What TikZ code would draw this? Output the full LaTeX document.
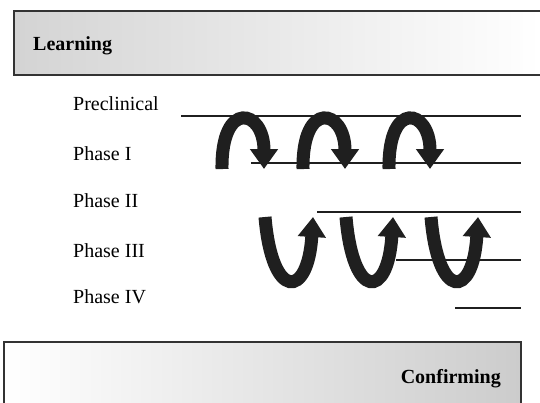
\documentclass[tikz,border=0pt]{standalone}
\usepackage{fontspec}
\setmainfont{Liberation Serif}
\usetikzlibrary{arrows.meta}
\begin{document}
\begin{tikzpicture}[x=1pt,y=-1pt,
  lbl/.style={anchor=base west,inner sep=0pt,font=\fontsize{20}{22}\selectfont},
  hdr/.style={inner sep=0pt,font=\fontsize{20}{22}\selectfont\bfseries},
  phline/.style={line width=2pt,draw=black!88},
  loop/.style={line width=13pt,draw=black!88,line cap=butt,
    -{Triangle[length=20pt,width=27pt,fill=black!88]}},
  boxborder/.style={draw=black!80,line width=1.2pt}]
\useasboundingbox (0,0) rectangle (540,402);
% top box
\shade[left color=black!17,right color=white] (14,11) rectangle (541,75);
\draw[boxborder] (541,11) -- (14,11) -- (14,75) -- (541,75);
\node[hdr,anchor=base west] (learn) at (33,50) {Learning};
% bottom box
\shade[left color=white,right color=black!20] (4,342) rectangle (521,403);
\draw[boxborder] (4,403) -- (4,342) -- (521,342) -- (521,403);
\node[hdr,anchor=base east] (conf) at (501,383) {Confirming};
% labels
\node[lbl] (pre) at (73,110) {Preclinical};
\node[lbl] (p1) at (73,160) {Phase I};
\node[lbl] (p2) at (73,207) {Phase II};
\node[lbl] (p3) at (73,257) {Phase III};
\node[lbl] (p4) at (73,303) {Phase IV};
% phase lines
\coordinate (l0a) at (181,116); \coordinate (l0b) at (521,116);
\coordinate (l1a) at (251,163); \coordinate (l1b) at (521,163);
\coordinate (l2a) at (317,212); \coordinate (l2b) at (521,212);
\coordinate (l3a) at (396,260); \coordinate (l3b) at (521,260);
\coordinate (l4a) at (455,308); \coordinate (l4b) at (521,308);
\foreach \i in {0,...,4} \draw[phline] (l\i a) -- (l\i b);
% top arches (Preclinical -> Phase I)
\foreach \s/\e [count=\k] in {222/264,303/345,389/430}{
  \coordinate (ta\k) at (\s,169);
  \coordinate (tb\k) at (\e,169);
  \draw[loop] (ta\k) .. controls ([xshift=-1pt,yshift=70pt]ta\k) and ([yshift=60pt]tb\k) .. (tb\k);
}
% bottom U loops (Phase III -> Phase II)
\foreach \s/\e [count=\k] in {265/313,346/393,431/478}{
  \coordinate (ua\k) at (\s,217);
  \coordinate (ub\k) at (\e,217);
  \draw[loop] (ua\k) .. controls ([xshift=7pt,yshift=-84pt]ua\k) and ([xshift=-5pt,yshift=-82pt]ub\k) .. (ub\k);
}
\end{tikzpicture}
\end{document}
